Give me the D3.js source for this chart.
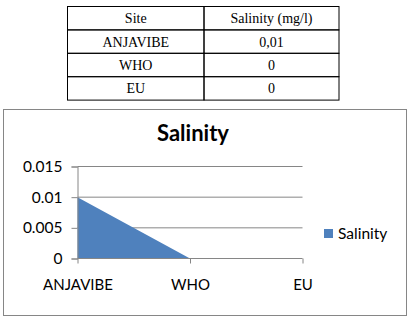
<!DOCTYPE html>
<html>
<head>
<meta charset="utf-8">
<script src="https://cdn.jsdelivr.net/npm/d3@7"></script>
<style>
  body { margin: 0; background: #fff; }
  svg { display: block; }
</style>
</head>
<body>
<div id="chart"></div>
<script>
let sites = ["ANJAVIBE", "WHO", "EU"];
let salinity = [0.01, 0, 0];
let tableValues = ["0,01", "0", "0"];
let tableHeader = ["Site", "Salinity (mg/l)"];
let yTicks = [0, 0.005, 0.01, 0.015];
let seriesName = "Salinity";

let width = 410, height = 321;
let axis_color = "#868686";
let area_color = "#4f81bd";
let chart_font = "Lato, 'Open Sans', sans-serif";

let svg = d3.select("#chart")
	.append("svg")
	.attr("width", width)
	.attr("height", height);

svg.append("rect")
	.attr("width", width)
	.attr("height", height)
	.attr("fill", "#fff");

// ---- table on top
let tbl = {left: 67.5, top: 6.5, colW: [136.5, 135], rowH: 23.4};
let table = svg.append("g").attr("class", "table");
let rows = [tableHeader].concat(sites.map((s, i) => [s, tableValues[i]]));

rows.forEach(function (row, r) {
	let yy = tbl.top + r * tbl.rowH;
	let xx = tbl.left;
	row.forEach(function (cell, c) {
		table.append("rect")
			.attr("x", xx)
			.attr("y", yy)
			.attr("width", tbl.colW[c])
			.attr("height", tbl.rowH)
			.attr("fill", "none")
			.attr("stroke", "#000");
		table.append("text")
			.attr("x", xx + tbl.colW[c] / 2)
			.attr("y", yy + tbl.rowH / 2)
			.attr("dy", "0.35em")
			.attr("text-anchor", "middle")
			.style("font-family", "'Liberation Serif', 'Times New Roman', serif")
			.style("font-size", "14px")
			.text(cell);
		xx += tbl.colW[c];
	});
});

// ---- chart box
svg.append("rect")
	.attr("x", 3.5)
	.attr("y", 109.5)
	.attr("width", 403)
	.attr("height", 206)
	.attr("fill", "#fff")
	.attr("stroke", axis_color);

svg.append("text")
	.attr("x", 193)
	.attr("y", 140.5)
	.attr("text-anchor", "middle")
	.style("font-family", chart_font)
	.style("font-weight", "bold")
	.style("font-size", "22px")
	.text(seriesName);

let plot = {left: 77.5, right: 302.5, top: 166.5, bottom: 258.5};

let xScale = d3.scalePoint()
	.domain(sites)
	.range([plot.left, plot.right]);

let yScale = d3.scaleLinear()
	.domain([0, 0.015])
	.range([plot.bottom, plot.top]);

// gridlines
svg.append("g")
	.selectAll("line")
	.data(yTicks.filter(d => d > 0))
	.enter()
	.append("line")
	.attr("x1", plot.left)
	.attr("x2", plot.right)
	.attr("y1", d => yScale(d))
	.attr("y2", d => yScale(d))
	.attr("stroke", axis_color);

// area
let data = sites.map((s, i) => ({site: s, v: salinity[i]}));
let area = d3.area()
	.x(d => xScale(d.site))
	.y0(yScale(0))
	.y1(d => yScale(d.v));

svg.append("path")
	.datum(data)
	.attr("d", area)
	.attr("fill", area_color);

// y axis
let yAxis = d3.axisLeft(yScale)
	.tickValues(yTicks)
	.tickSize(6)
	.tickPadding(9)
	.tickFormat(d => d === 0 ? "0" : d3.format("")(d));

let gy = svg.append("g")
	.attr("transform", "translate(" + plot.left + ",0)")
	.call(yAxis);
gy.select(".domain").attr("stroke", axis_color);
gy.selectAll(".tick line").attr("stroke", axis_color);
gy.selectAll(".tick text")
	.style("font-family", chart_font)
	.style("font-size", "15.5px")
	.attr("fill", "#000");

// x axis
let xAxis = d3.axisBottom(xScale)
	.tickSize(5)
	.tickPadding(16);

let gx = svg.append("g")
	.attr("transform", "translate(0," + plot.bottom + ")")
	.call(xAxis);
gx.select(".domain").attr("stroke", axis_color).attr("d", "M" + plot.left + ",0H" + plot.right);
gx.selectAll(".tick line").attr("stroke", axis_color);
gx.selectAll(".tick text")
	.style("font-family", chart_font)
	.style("font-size", "15px")
	.attr("fill", "#000");

// legend
let legend = svg.append("g").attr("transform", "translate(324,229)");
legend.append("rect")
	.attr("width", 9)
	.attr("height", 9)
	.attr("fill", area_color);
legend.append("text")
	.attr("x", 14)
	.attr("y", 4.5)
	.attr("dy", "0.35em")
	.style("font-family", chart_font)
	.style("font-size", "15.5px")
	.text(seriesName);
</script>
</body>
</html>
